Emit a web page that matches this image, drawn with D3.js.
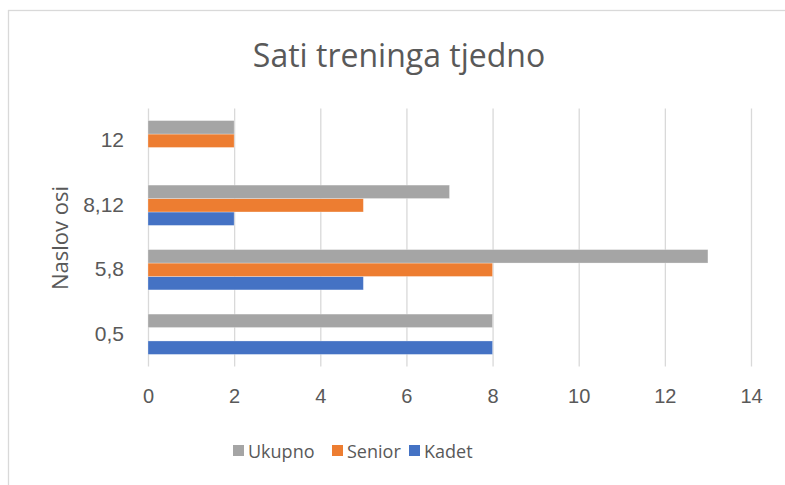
<!DOCTYPE html>
<html>
<head>
<meta charset="utf-8">
<script src="https://cdn.jsdelivr.net/npm/d3@7"></script>
<style>
  html, body { margin: 0; padding: 0; background: #ffffff; }
  svg { display: block; font-family: "Open Sans", "Noto Sans", sans-serif; }
</style>
</head>
<body>
<div id="chart"></div>
<script>
// categories bottom -> top
const categories = ["0,5", "5,8", "8,12", "12"];
const seriesNames = ["Kadet", "Senior", "Ukupno"];
const kadet  = [8, 5, 2, null];
const senior = [null, 8, 5, 2];
const ukupno = [8, 13, 7, 2];
const xTicks = [0, 2, 4, 6, 8, 10, 12, 14];
const colors = ["#4472C4", "#ED7D31", "#A5A5A5"];
const legendOrder = ["Ukupno", "Senior", "Kadet"];

const width = 785, height = 485;
const margin = { top: 108.5, right: 34, bottom: 118.5, left: 148 };
const innerW = width - margin.left - margin.right;
const innerH = height - margin.top - margin.bottom;
const textColor = "#595959";

const svg = d3.select("#chart").append("svg")
  .attr("width", width)
  .attr("height", height);

// chart border (cropped on right/bottom)
svg.append("rect")
  .attr("x", 8.5).attr("y", 10.5)
  .attr("width", 820).attr("height", 520)
  .attr("fill", "#fff")
  .attr("stroke", "#D9D9D9")
  .attr("stroke-width", 1.3);

svg.append("text")
  .attr("x", 399).attr("y", 67)
  .attr("text-anchor", "middle")
  .attr("fill", textColor)
  .style("font-size", "32px")
  .text("Sati treninga tjedno");

const g = svg.append("g").attr("transform", `translate(${margin.left},${margin.top})`);

const x = d3.scaleLinear().domain([0, 14]).range([0, innerW]);
// reversed so first category is at bottom
const y = d3.scaleBand().domain(categories.slice().reverse()).range([0, innerH]).paddingInner(0).paddingOuter(0);
const barH = y.bandwidth() / (3 + 1.8);
const groupH = barH * 3;

// gridlines via axis
g.append("g")
  .attr("transform", `translate(0,${innerH})`)
  .call(d3.axisBottom(x).tickValues(xTicks).tickSize(innerH).tickFormat(""))
  .call(a => a.select(".domain").remove())
  .call(a => a.selectAll("line").attr("stroke", "#D9D9D9").attr("stroke-width", 1.3).attr("y2", -innerH));

// tick labels
g.append("g")
  .attr("transform", `translate(0,${innerH})`)
  .call(d3.axisBottom(x).tickValues(xTicks).tickSize(0).tickPadding(22).tickFormat(d => d))
  .call(a => a.select(".domain").remove())
  .call(a => a.selectAll("text").attr("fill", textColor).style("font-size", "20px").attr("font-family", null));

g.append("g")
  .call(d3.axisLeft(y).tickSize(0).tickPadding(24))
  .call(a => a.select(".domain").remove())
  .call(a => a.selectAll("text").attr("fill", textColor).style("font-size", "21px").attr("font-family", null));

const series = [kadet, senior, ukupno];
const rows = [];
series.forEach((vals, si) => {
  vals.forEach((v, ci) => {
    if (v != null) rows.push({ si, cat: categories[ci], v });
  });
});

g.append("g").selectAll("rect")
  .data(rows)
  .join("rect")
  .attr("x", x(0))
  .attr("y", d => y(d.cat) + (y.bandwidth() - groupH) / 2 + (2 - d.si) * barH)
  .attr("width", d => x(d.v) - x(0))
  .attr("height", barH)
  .attr("fill", d => colors[d.si])
  .attr("stroke", "#ffffff")
  .attr("stroke-opacity", 0.35)
  .attr("stroke-width", 0.8);

// y-axis title
svg.append("text")
  .attr("transform", `translate(68,238) rotate(-90)`)
  .attr("text-anchor", "middle")
  .attr("fill", textColor)
  .style("font-size", "22px")
  .text("Naslov osi");

// legend
const legendX = [233, 332, 409];
const legend = svg.append("g");
legendOrder.forEach((name, i) => {
  const si = seriesNames.indexOf(name);
  const lg = legend.append("g").attr("transform", `translate(${legendX[i]},445)`);
  lg.append("rect").attr("width", 11).attr("height", 11).attr("fill", colors[si]);
  lg.append("text").attr("x", 15).attr("y", 12.5)
    .attr("fill", textColor)
    .style("font-size", "18px")
    .text(name);
});
</script>
</body>
</html>
